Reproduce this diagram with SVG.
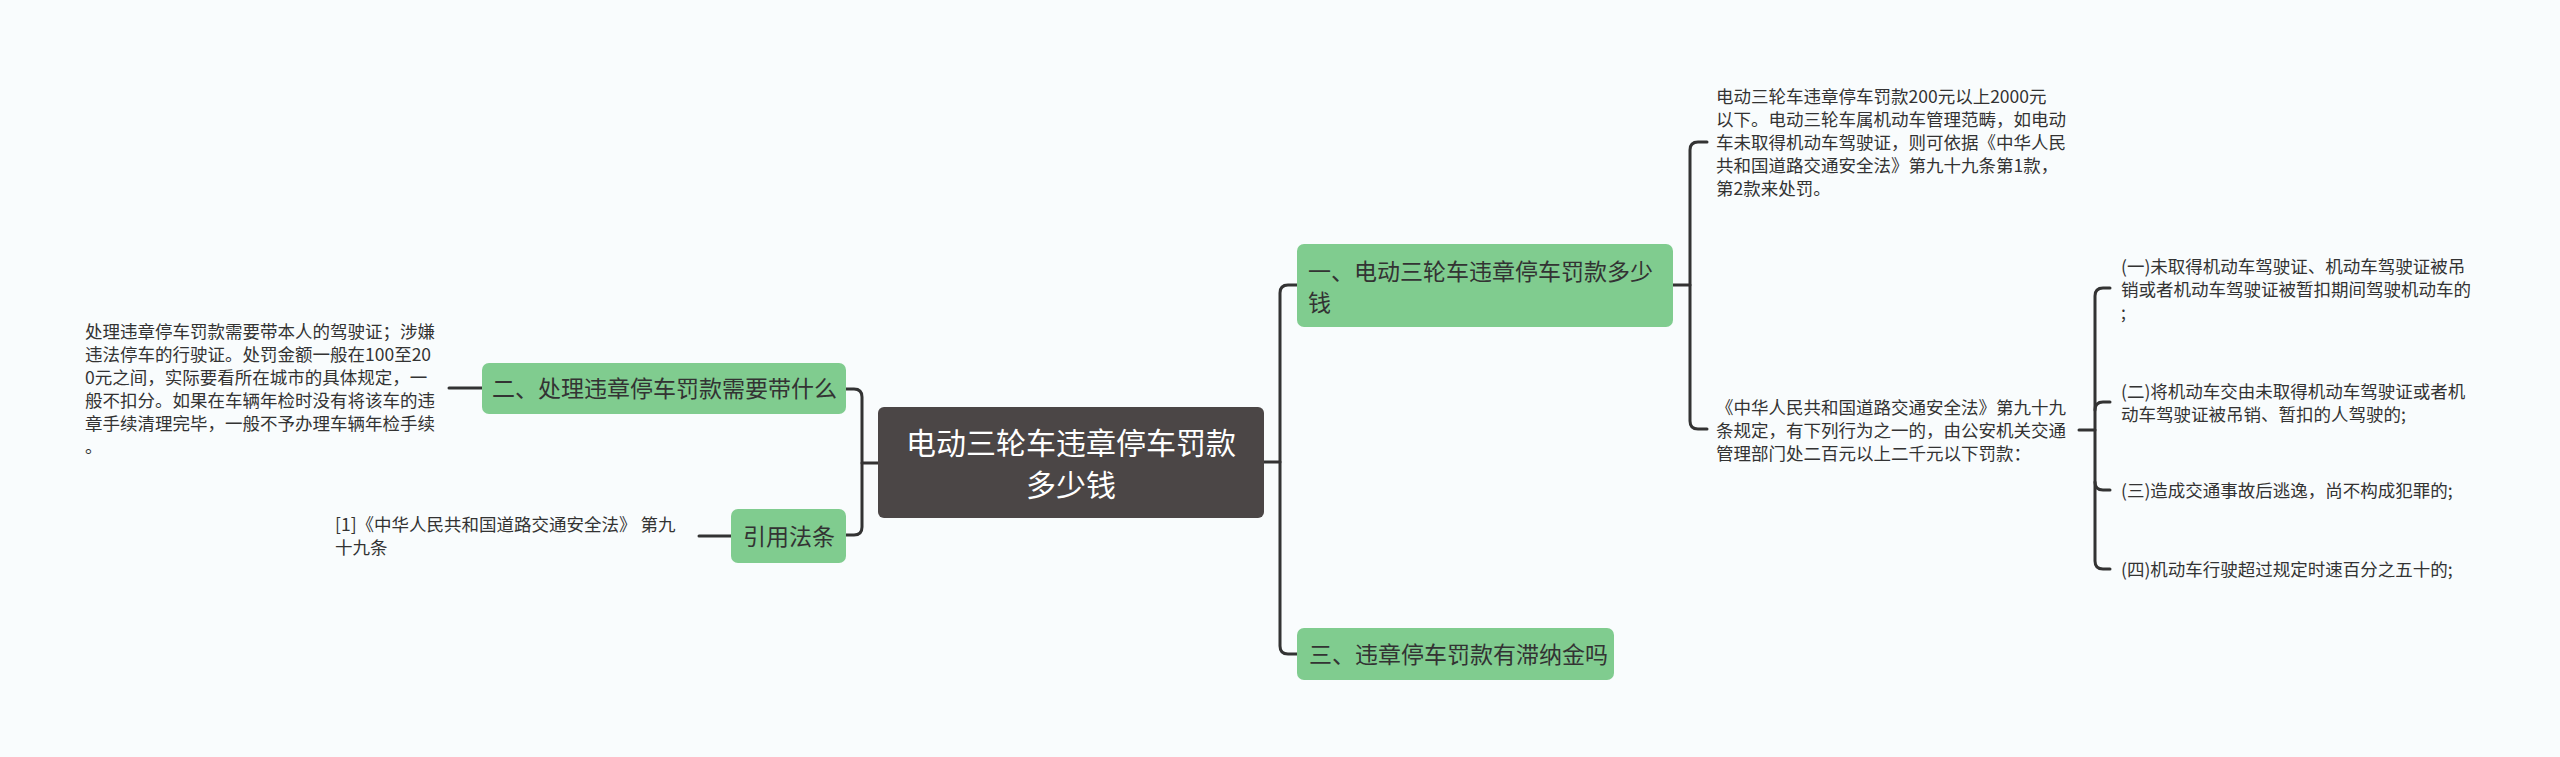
<svg xmlns="http://www.w3.org/2000/svg" width="2560" height="757" viewBox="0 0 2560 757">
<style>
.bg{fill:#f9fcfd}
.root{fill:#4b4646}
.main{fill:#80cc8f}
.t{font-family:"Noto Sans CJK SC","Noto Sans",sans-serif;fill:#333}
.rt{font-family:"Noto Sans CJK SC","Noto Sans",sans-serif;fill:#ffffff;font-size:30px}
.nt{font-size:23px}
.lt{font-size:17.5px}
.c{fill:none;stroke:#333;stroke-width:3;stroke-linecap:round}
</style>
<rect class="bg" x="0" y="0" width="2560" height="757"/>
<g id="connectors">
<path class="c" d="M846 389 H854 Q862 389 862 397 V527 Q862 535 854 535 H846"/>
<path class="c" d="M862 463 H878"/>
<path class="c" d="M449 388 H482"/>
<path class="c" d="M699 536 H731"/>
<path class="c" d="M1264 462 H1280"/>
<path class="c" d="M1297 285 H1288 Q1280 285 1280 293 V646 Q1280 654 1288 654 H1297"/>
<path class="c" d="M1673 285 H1690"/>
<path class="c" d="M1707 142 H1698 Q1690 142 1690 150 V421 Q1690 429 1698 429 H1707"/>
<path class="c" d="M2079 430 H2095"/>
<path class="c" d="M2110 288 H2103 Q2095 288 2095 296 V561 Q2095 569 2103 569 H2110"/>
<path class="c" d="M2110 402 H2103 Q2095 402 2095 410"/>
<path class="c" d="M2095 482 Q2095 490 2103 490 H2110"/>
</g>
<g id="root">
<rect class="root" x="878" y="407" width="386" height="111" rx="6"/>
<text class="rt" x="1071" y="454" text-anchor="middle">电动三轮车违章停车罚款</text>
<text class="rt" x="1071" y="496" text-anchor="middle">多少钱</text>
</g>
<g id="node-two">
<rect class="main" x="482" y="363" width="364" height="51" rx="7"/>
<text class="t nt" x="492" y="397">二、处理违章停车罚款需要带什么</text>
</g>
<g id="node-two-text">
<text class="t lt" x="85" y="338">处理违章停车罚款需要带本人的驾驶证；涉嫌</text>
<text class="t lt" x="85" y="361">违法停车的行驶证。处罚金额一般在100至20</text>
<text class="t lt" x="85" y="384">0元之间，实际要看所在城市的具体规定，一</text>
<text class="t lt" x="85" y="407">般不扣分。如果在车辆年检时没有将该车的违</text>
<text class="t lt" x="85" y="430">章手续清理完毕，一般不予办理车辆年检手续</text>
<text class="t lt" x="85" y="453">。</text>
</g>
<g id="node-cite">
<rect class="main" x="731" y="509" width="115" height="54" rx="7"/>
<text class="t nt" x="789" y="545" text-anchor="middle">引用法条</text>
</g>
<g id="node-cite-text">
<text class="t lt" x="335" y="531">[1]《中华人民共和国道路交通安全法》 第九</text>
<text class="t lt" x="335" y="554">十九条</text>
</g>
<g id="node-one">
<rect class="main" x="1297" y="244" width="376" height="83" rx="7"/>
<text class="t nt" x="1308" y="280">一、电动三轮车违章停车罚款多少</text>
<text class="t nt" x="1308" y="311">钱</text>
</g>
<g id="node-one-a">
<text class="t lt" x="1716" y="103">电动三轮车违章停车罚款200元以上2000元</text>
<text class="t lt" x="1716" y="126">以下。电动三轮车属机动车管理范畴，如电动</text>
<text class="t lt" x="1716" y="149">车未取得机动车驾驶证，则可依据《中华人民</text>
<text class="t lt" x="1716" y="172">共和国道路交通安全法》第九十九条第1款，</text>
<text class="t lt" x="1716" y="195">第2款来处罚。</text>
</g>
<g id="node-one-b">
<text class="t lt" x="1716" y="414">《中华人民共和国道路交通安全法》第九十九</text>
<text class="t lt" x="1716" y="437">条规定，有下列行为之一的，由公安机关交通</text>
<text class="t lt" x="1716" y="460">管理部门处二百元以上二千元以下罚款：</text>
</g>
<g id="item-1">
<text class="t lt" x="2121" y="273">(一)未取得机动车驾驶证、机动车驾驶证被吊</text>
<text class="t lt" x="2121" y="296">销或者机动车驾驶证被暂扣期间驾驶机动车的</text>
<text class="t lt" x="2121" y="319">;</text>
</g>
<g id="item-2">
<text class="t lt" x="2121" y="398">(二)将机动车交由未取得机动车驾驶证或者机</text>
<text class="t lt" x="2121" y="421">动车驾驶证被吊销、暂扣的人驾驶的;</text>
</g>
<g id="item-3">
<text class="t lt" x="2121" y="497">(三)造成交通事故后逃逸，尚不构成犯罪的;</text>
</g>
<g id="item-4">
<text class="t lt" x="2121" y="576">(四)机动车行驶超过规定时速百分之五十的;</text>
</g>
<g id="node-three">
<rect class="main" x="1297" y="628" width="317" height="52" rx="7"/>
<text class="t nt" x="1309" y="663">三、违章停车罚款有滞纳金吗</text>
</g>
</svg>
